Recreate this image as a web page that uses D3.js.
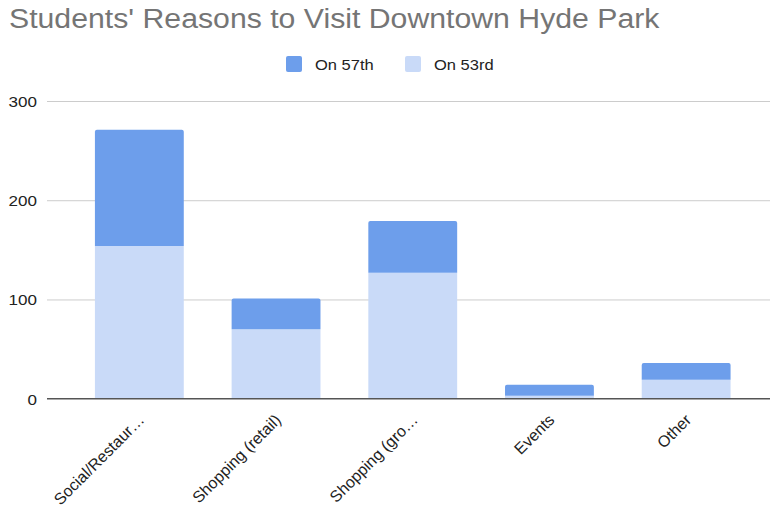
<!DOCTYPE html>
<html>
<head>
<meta charset="utf-8">
<script src="https://cdn.jsdelivr.net/npm/d3@7"></script>
<style>
  html, body { margin: 0; padding: 0; background: #fff; }
  svg { display: block; font-family: "Liberation Sans", Arial, sans-serif; }
</style>
</head>
<body>
<svg id="chart" width="770" height="514"></svg>
<script>
// Reasons students visit downtown Hyde Park, split by street
const categories = ["Social/Restaur\u2026", "Shopping (retail)", "Shopping (gro\u2026", "Events", "Other"];
const on53rd = [154, 70, 127, 3, 19];
const on57th = [117, 31, 52, 11, 17];
const seriesNames = ["On 57th", "On 53rd"];
const yTicks = [0, 100, 200, 300];
const titleText = "Students' Reasons to Visit Downtown Hyde Park";

const colors = { "On 57th": "#6d9eeb", "On 53rd": "#c9daf8" };
const stretch = 1.1; // text is set slightly wide

const svg = d3.select("#chart");
const W = 770;

const x = d3.scaleBand().domain(categories).range([71, 754.5]).paddingInner(0.35).paddingOuter(0.175);
const y = d3.scaleLinear().domain([0, 300]).range([398.7, 101]);

// title
svg.append("text")
  .attr("transform", `translate(9,28) scale(1.12,1)`)
  .attr("font-size", 27)
  .attr("fill", "#757575")
  .text(titleText);

// legend
const legend = svg.append("g");
const legendItems = [{ name: seriesNames[0], x: 286 }, { name: seriesNames[1], x: 405 }];
legendItems.forEach(it => {
  legend.append("rect")
    .attr("x", it.x).attr("y", 56).attr("width", 16).attr("height", 16)
    .attr("rx", 2).attr("fill", colors[it.name]);
  legend.append("text")
    .attr("transform", `translate(${it.x + 29},69.5) scale(${stretch},1)`)
    .attr("font-size", 15).attr("fill", "#222")
    .text(it.name);
});

// gridlines + y labels
const yAxis = d3.axisLeft(y).tickValues(yTicks).tickSize(0).tickPadding(0);
const yg = svg.append("g").attr("transform", "translate(47,0)").call(yAxis);
yg.select(".domain").remove();
yg.selectAll("text")
  .attr("x", null).attr("dy", null)
  .attr("transform", `translate(-10,5.5) scale(${stretch},1)`)
  .attr("font-size", 15.5)
  .attr("fill", "#222")
  .attr("font-family", "Liberation Sans, Arial, sans-serif");
yg.selectAll(".tick").append("line")
  .attr("x1", 0).attr("x2", W - 47)
  .attr("stroke", d => d === 0 ? "none" : "#cccccc")
  .attr("stroke-width", 1);

// stacked bars
const rows = categories.map((c, i) => ({ cat: c, "On 53rd": on53rd[i], "On 57th": on57th[i] }));
const stack = d3.stack().keys(["On 53rd", "On 57th"]);
const layers = stack(rows);

function barPath(x0, w, yTop, yBot, r) {
  r = Math.min(r, (yBot - yTop) / 2);
  return `M${x0},${yBot}V${yTop + r}Q${x0},${yTop} ${x0 + r},${yTop}H${x0 + w - r}Q${x0 + w},${yTop} ${x0 + w},${yTop + r}V${yBot}Z`;
}

layers.forEach(layer => {
  svg.append("g").selectAll("path")
    .data(layer)
    .join("path")
    .attr("fill", colors[layer.key])
    .attr("d", d => barPath(x(d.data.cat), x.bandwidth(), y(d[1]), y(d[0]), layer.key === "On 57th" ? 2 : 0));
});

// baseline
svg.append("line")
  .attr("x1", 47).attr("x2", W)
  .attr("y1", y(0)).attr("y2", y(0))
  .attr("stroke", "#555").attr("stroke-width", 1.6);

// category labels, rotated
const xg = svg.append("g");
xg.selectAll("text")
  .data(categories)
  .join("text")
  .attr("transform", d => `translate(${x(d) + x.bandwidth() / 2 + 6},${421}) rotate(-45)`)
  .attr("text-anchor", "end")
  .attr("font-size", 16)
  .attr("fill", "#222")
  .text(d => d);
</script>
</body>
</html>
